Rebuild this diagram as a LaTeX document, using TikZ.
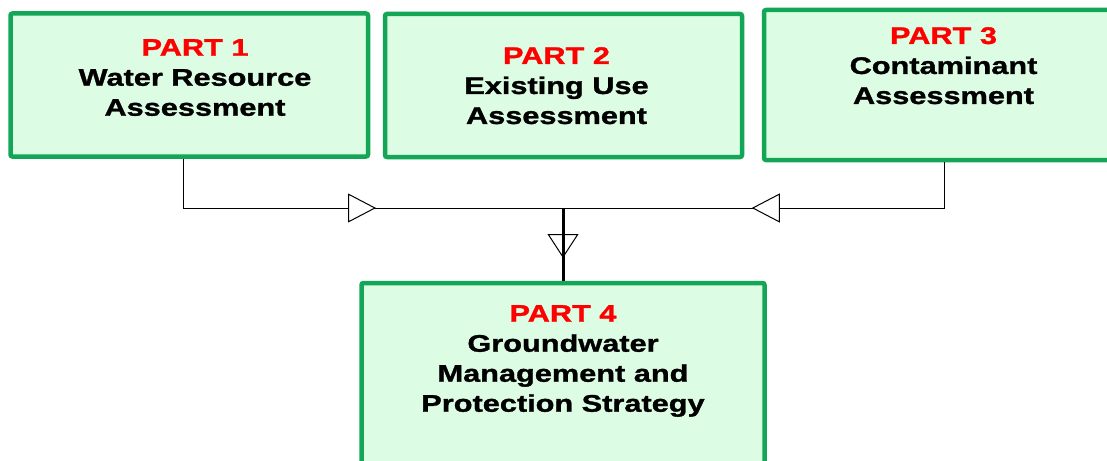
\documentclass[tikz,border=0pt]{standalone}
\usepackage{fontspec}
\setmainfont{Liberation Sans}[FakeStretch=1.28, BoldFeatures={FakeBold=1.3}]
\usetikzlibrary{arrows.meta,decorations.markings}

\definecolor{boxgreen}{RGB}{18,166,86}
\definecolor{boxfill}{RGB}{220,252,228}
\definecolor{partred}{RGB}{255,0,0}

\begin{document}
\begin{tikzpicture}[x=1pt, y=-1pt,
    partbox/.style={draw=boxgreen, fill=boxfill, line width=4.5pt, rounded corners=2pt, inner sep=0pt},
    parttext/.style={anchor=north, align=center, inner sep=0pt, font=\fontsize{24}{30}\selectfont\bfseries},
    feed/.style={line width=1pt, postaction=decorate}
]
    \useasboundingbox (0,0) rectangle (1107,460);

    % the four parts
    \node[partbox, minimum width=357.5, minimum height=143] (p1) at (189.25,85) {};
    \node[partbox, minimum width=357, minimum height=143] (p2) at (563.5,85.5) {};
    \node[partbox, minimum width=360, minimum height=150] (p3) at (944,85) {};
    \node[partbox, minimum width=403, minimum height=187] (p4) at (563,376.5) {};

    \node[parttext] (t1) at (195,39) {\textcolor{partred}{PART 1}\\Water Resource\\Assessment};
    \node[parttext] (t2) at (556.5,47) {\textcolor{partred}{PART 2}\\Existing Use\\Assessment};
    \node[parttext] (t3) at (943.5,27) {\textcolor{partred}{PART 3}\\Contaminant\\Assessment};
    \node[parttext] (t4) at (563,305) {\textcolor{partred}{PART 4}\\Groundwater\\Management and\\Protection Strategy};

    % connectors
    \coordinate (j) at (563,208);

    \draw[feed, decoration={markings, mark=at position 242pt with {\arrow{Triangle[fill=white, length=28pt, width=29pt]}}}]
        ([xshift=-6pt]p1.south) |- (j);
    \draw[feed, decoration={markings, mark=at position 238pt with {\arrow{Triangle[fill=white, length=28pt, width=29pt]}}}]
        (p3.south) |- (j);
    \draw[line width=3pt, postaction=decorate, decoration={markings, mark=at position 50pt with {\arrow{Triangle[open, line width=1pt, length=24pt, width=31pt]}}}]
        (j) -- (p4.north);
\end{tikzpicture}
\end{document}
